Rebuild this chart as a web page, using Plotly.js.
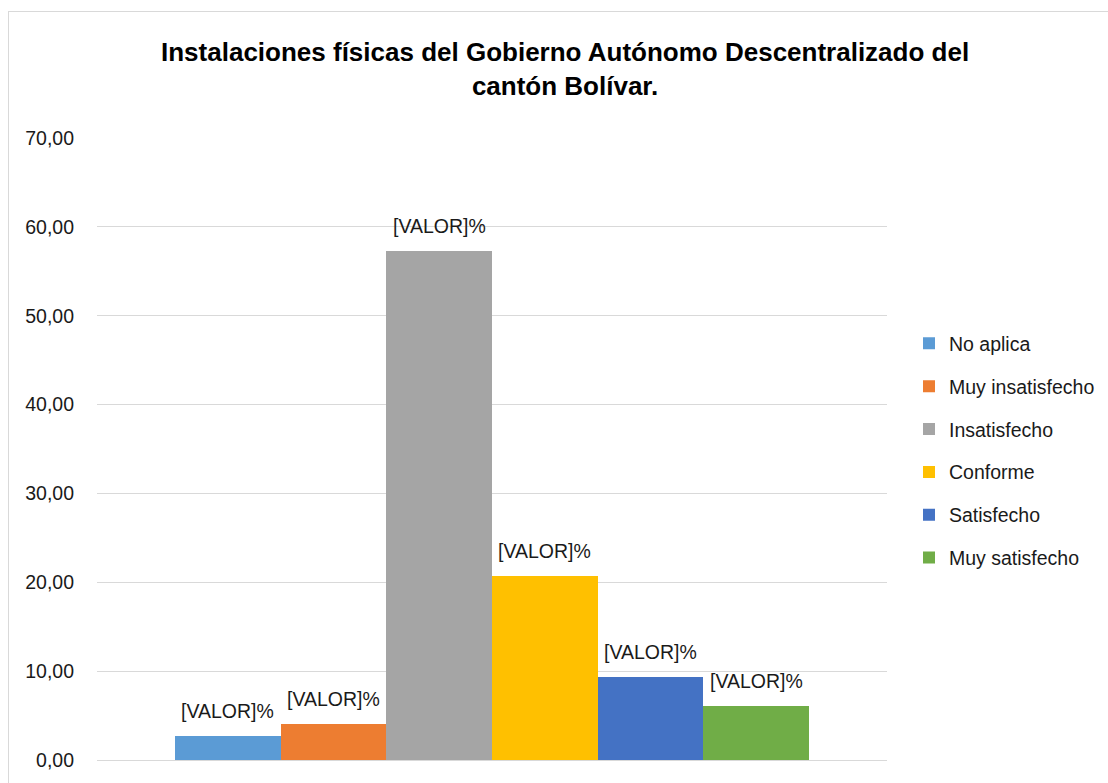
<!DOCTYPE html>
<html>
<head>
<meta charset="utf-8">
<script src="https://cdn.plot.ly/plotly-3.0.1.min.js"></script>
<style>
html,body{margin:0;padding:0;background:#fff;}
#wrap{position:relative;width:1108px;height:783px;overflow:hidden;}
#chart{position:absolute;left:0;top:0;width:1108px;height:783px;}
#border{position:absolute;left:8px;top:11px;width:1110px;height:790px;border:1px solid #d9d9d9;pointer-events:none;}
</style>
</head>
<body>
<div id="wrap"><div id="chart"></div><div id="border"></div></div>
<script>
var categories = ["No aplica", "Muy insatisfecho", "Insatisfecho", "Conforme", "Satisfecho", "Muy satisfecho"];
var values = [2.70, 4.09, 57.28, 20.74, 9.37, 6.11];
var labels = ["[VALOR]%", "[VALOR]%", "[VALOR]%", "[VALOR]%", "[VALOR]%", "[VALOR]%"];
var colors = ["#5b9bd5", "#ed7d31", "#a5a5a5", "#ffc000", "#4472c4", "#70ad47"];
var yTicks = [0, 10, 20, 30, 40, 50, 60, 70];

var FONT = 'Liberation Sans, Arial, sans-serif';

var traces = categories.map(function(c, i){
  return {
    type: 'bar',
    name: c,
    x: [c],
    y: [values[i]],
    marker: {color: colors[i], line: {width: 0}},
    legendgroup: 'g' + i,
    hoverinfo: 'name+y'
  };
});

var annotations = categories.map(function(c, i){
  return {
    x: c, y: values[i], xref: 'x', yref: 'y',
    text: labels[i], showarrow: false,
    xanchor: 'center', yanchor: 'bottom', yshift: 12,
    font: {family: FONT, size: 19.5, color: '#1a1a1a'}
  };
});

var layout = {
  width: 1108, height: 783,
  paper_bgcolor: 'rgba(0,0,0,0)',
  plot_bgcolor: '#fff',
  margin: {l: 97, r: 221, t: 138, b: 23, autoexpand: false},
  barmode: 'overlay',
  bargap: 0,
  font: {family: FONT, size: 19.5, color: '#1a1a1a'},
  title: {
    text: '<b>Instalaciones físicas del Gobierno Autónomo Descentralizado del<br>cantón Bolívar.</b>',
    font: {family: FONT, size: 26, color: '#000'},
    x: 0.51, xanchor: 'center', xref: 'container',
    y: 0.922, yanchor: 'top', yref: 'container'
  },
  xaxis: {
    type: 'category', categoryarray: categories, categoryorder: 'array',
    range: [-1.238, 6.238],
    showticklabels: false, showgrid: false, zeroline: false, showline: false, ticks: ''
  },
  yaxis: {
    range: [0, 70], tickvals: yTicks, tickformat: '.2f',
    showgrid: true, gridcolor: '#d9d9d9', gridwidth: 1,
    zeroline: true, zerolinecolor: '#d9d9d9', zerolinewidth: 1,
    showline: false, ticks: '', ticklabelstandoff: 22,
    tickfont: {size: 19.5, color: '#1a1a1a'}
  },
  separators: ',.',
  annotations: annotations,
  showlegend: true,
  legend: {
    xref: 'container', yref: 'container',
    x: 0.8204, xanchor: 'left', y: 0.586, yanchor: 'top',
    traceorder: 'grouped', tracegroupgap: 14.5,
    font: {size: 19.5, color: '#1a1a1a'},
    bgcolor: 'rgba(0,0,0,0)'
  }
};

Plotly.newPlot('chart', traces, layout, {displayModeBar: false, staticPlot: true});
</script>
</body>
</html>
